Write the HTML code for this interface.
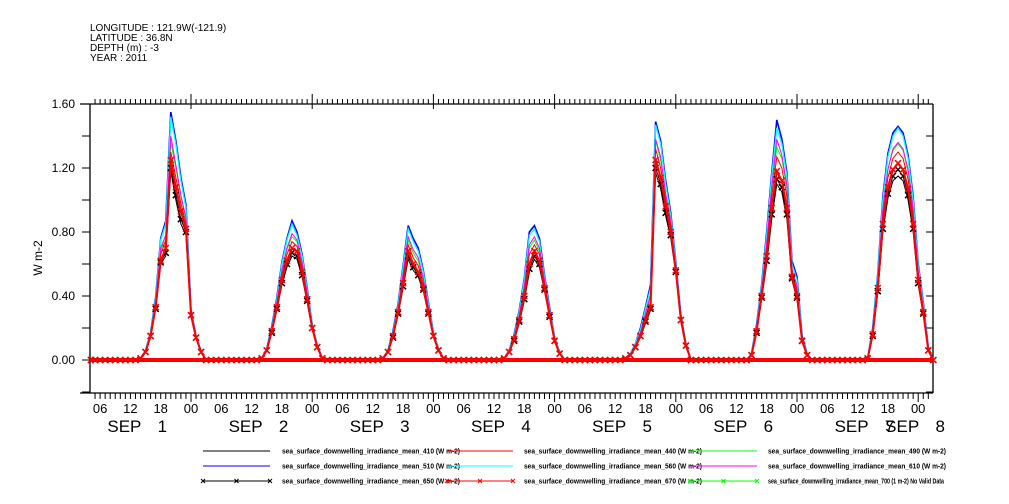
<!DOCTYPE html>
<html><head><meta charset="utf-8"><style>
body{margin:0;background:#fff;}
svg{display:block;font-family:"Liberation Sans",sans-serif;}
</style></head><body>
<svg id="chart" width="1009" height="504" viewBox="0 0 1009 504">
<g font-size="10" fill="#000">
<text x="90" y="31">LONGITUDE : 121.9W(-121.9)</text>
<text x="90" y="41">LATITUDE : 36.8N</text>
<text x="90" y="51">DEPTH (m) : -3</text>
<text x="90" y="61">YEAR : 2011</text>
</g>
<g id="axes"></g>
<g id="series"></g>
<text x="0" y="0" font-size="12" text-anchor="middle" transform="translate(42,258) rotate(-90)">W m-2</text>
<g id="legend"></g>
</svg>
<script>
// y tick values
const yTicks = [0, 0.4, 0.8, 1.2, 1.6];
const yTickLabels = ["0.00", "0.40", "0.80", "1.20", "1.60"];
const dayLabels = ["1","2","3","4","5","6","7","8"];
const hourLabels = ["00","06","12","18"];
// daylight hours 14..27 for each day (Sep 1..7)
const dayHours = [14,15,16,17,18,19,20,21,22,23,24,25,26,27];
const s670 = [
 [0.01,0.05,0.15,0.33,0.62,0.70,1.25,1.08,0.93,0.82,0.28,0.14,0.05,0],
 [0.01,0.06,0.18,0.33,0.50,0.62,0.70,0.68,0.55,0.38,0.20,0.08,0.01,0],
 [0.01,0.05,0.15,0.30,0.48,0.68,0.60,0.55,0.45,0.30,0.15,0.06,0.01,0],
 [0.01,0.05,0.13,0.25,0.40,0.60,0.68,0.62,0.45,0.28,0.12,0.04,0,0],
 [0.01,0.03,0.08,0.15,0.25,0.33,1.25,1.14,0.96,0.80,0.56,0.25,0.09,0],
 [0,0.03,0.18,0.40,0.65,0.95,1.18,1.12,0.95,0.52,0.40,0.12,0.03,0],
 [0.01,0.16,0.45,0.85,1.08,1.19,1.23,1.19,1.07,0.85,0.50,0.30,0.06,0.0]];
const s440 = [
 [0.01,0.05,0.16,0.35,0.66,0.75,1.30,1.14,0.98,0.85,0.29,0.14,0.05,0],
 [0.01,0.06,0.19,0.35,0.53,0.66,0.74,0.71,0.58,0.40,0.21,0.08,0.01,0],
 [0.01,0.05,0.16,0.31,0.51,0.72,0.64,0.59,0.48,0.32,0.16,0.06,0.01,0],
 [0.01,0.05,0.14,0.27,0.43,0.66,0.72,0.66,0.47,0.29,0.13,0.04,0,0],
 [0.01,0.03,0.09,0.16,0.27,0.36,1.32,1.20,1.00,0.84,0.57,0.26,0.09,0],
 [0,0.03,0.19,0.42,0.69,1.02,1.27,1.20,1.02,0.55,0.43,0.13,0.03,0],
 [0.01,0.17,0.48,0.90,1.14,1.26,1.30,1.26,1.13,0.90,0.53,0.32,0.07,0.0]];
const s490 = [
 [0.01,0.05,0.16,0.36,0.68,0.78,1.36,1.20,1.02,0.88,0.29,0.15,0.05,0],
 [0.01,0.06,0.19,0.36,0.55,0.69,0.77,0.74,0.60,0.41,0.21,0.08,0.01,0],
 [0.01,0.05,0.16,0.32,0.53,0.75,0.67,0.62,0.50,0.33,0.16,0.06,0.01,0],
 [0.01,0.05,0.14,0.28,0.45,0.70,0.75,0.68,0.49,0.30,0.13,0.04,0,0],
 [0.01,0.03,0.09,0.17,0.28,0.40,1.37,1.25,1.03,0.86,0.58,0.26,0.09,0],
 [0,0.03,0.20,0.44,0.72,1.07,1.33,1.26,1.07,0.57,0.45,0.13,0.03,0],
 [0.01,0.18,0.50,0.94,1.19,1.31,1.35,1.31,1.18,0.94,0.55,0.33,0.07,0.0]];
const s510 = [
 [0.01,0.06,0.17,0.39,0.76,0.87,1.55,1.37,1.14,0.97,0.31,0.15,0.05,0],
 [0.01,0.07,0.21,0.39,0.61,0.76,0.87,0.80,0.66,0.45,0.22,0.09,0.01,0],
 [0.01,0.06,0.18,0.35,0.59,0.84,0.76,0.70,0.56,0.36,0.17,0.07,0.01,0],
 [0.01,0.06,0.16,0.31,0.51,0.80,0.84,0.76,0.53,0.33,0.14,0.05,0,0],
 [0.01,0.04,0.10,0.20,0.33,0.47,1.49,1.37,1.12,0.92,0.61,0.28,0.10,0],
 [0,0.04,0.22,0.47,0.80,1.17,1.50,1.38,1.17,0.62,0.52,0.15,0.04,0],
 [0.01,0.20,0.54,1.02,1.29,1.42,1.46,1.42,1.28,1.02,0.60,0.36,0.08,0.0]];
const s560 = [
 [0.01,0.06,0.17,0.38,0.75,0.85,1.52,1.35,1.12,0.95,0.30,0.15,0.05,0],
 [0.01,0.07,0.20,0.38,0.60,0.75,0.85,0.78,0.65,0.44,0.22,0.09,0.01,0],
 [0.01,0.06,0.17,0.34,0.58,0.82,0.74,0.68,0.55,0.35,0.17,0.07,0.01,0],
 [0.01,0.06,0.15,0.30,0.50,0.78,0.82,0.74,0.52,0.32,0.14,0.05,0,0],
 [0.01,0.04,0.10,0.19,0.32,0.45,1.47,1.35,1.10,0.90,0.60,0.27,0.10,0],
 [0,0.04,0.21,0.46,0.78,1.15,1.45,1.35,1.15,0.60,0.50,0.14,0.04,0],
 [0.01,0.19,0.53,1.00,1.27,1.40,1.45,1.40,1.26,1.00,0.59,0.35,0.08,0.0]];
const s610 = [
 [0.01,0.05,0.16,0.36,0.70,0.78,1.40,1.22,1.03,0.89,0.29,0.15,0.05,0],
 [0.01,0.06,0.19,0.36,0.56,0.70,0.79,0.75,0.61,0.42,0.21,0.08,0.01,0],
 [0.01,0.05,0.16,0.32,0.54,0.77,0.69,0.64,0.51,0.33,0.16,0.06,0.01,0],
 [0.01,0.05,0.14,0.28,0.46,0.72,0.77,0.70,0.50,0.31,0.13,0.04,0,0],
 [0.01,0.03,0.09,0.17,0.29,0.41,1.38,1.27,1.04,0.87,0.58,0.26,0.09,0],
 [0,0.03,0.20,0.44,0.73,1.08,1.38,1.28,1.09,0.57,0.46,0.13,0.03,0],
 [0.01,0.18,0.50,0.94,1.19,1.32,1.36,1.32,1.19,0.94,0.56,0.33,0.07,0.0]];
const s650 = [
 [0.01,0.05,0.15,0.32,0.61,0.67,1.20,1.03,0.88,0.80,0.28,0.14,0.05,0],
 [0.01,0.06,0.17,0.32,0.48,0.60,0.67,0.65,0.53,0.37,0.20,0.08,0.01,0],
 [0.01,0.05,0.14,0.29,0.46,0.65,0.58,0.53,0.44,0.29,0.15,0.06,0.01,0],
 [0.01,0.05,0.12,0.24,0.38,0.57,0.65,0.60,0.44,0.27,0.12,0.04,0,0],
 [0.01,0.03,0.08,0.15,0.24,0.32,1.20,1.10,0.92,0.78,0.55,0.25,0.09,0],
 [0,0.03,0.17,0.39,0.62,0.91,1.13,1.08,0.91,0.51,0.39,0.12,0.03,0],
 [0.01,0.15,0.43,0.82,1.04,1.15,1.19,1.15,1.03,0.82,0.48,0.29,0.06,0.0]];
const s410 = [
 [0.01,0.05,0.15,0.32,0.60,0.65,1.18,1.00,0.85,0.78,0.28,0.14,0.05,0],
 [0.01,0.06,0.17,0.31,0.47,0.58,0.65,0.63,0.52,0.36,0.19,0.08,0.01,0],
 [0.01,0.05,0.14,0.28,0.45,0.63,0.56,0.52,0.43,0.29,0.15,0.06,0.01,0],
 [0.01,0.05,0.12,0.23,0.37,0.55,0.63,0.58,0.43,0.27,0.12,0.04,0,0],
 [0.01,0.03,0.08,0.14,0.23,0.31,1.17,1.07,0.90,0.76,0.54,0.25,0.09,0],
 [0,0.03,0.17,0.38,0.60,0.88,1.10,1.05,0.88,0.50,0.38,0.12,0.03,0],
 [0.01,0.15,0.42,0.80,1.01,1.12,1.15,1.12,1.00,0.80,0.47,0.28,0.06,0.0]];
const legendNames = ["sea_surface_downwelling_irradiance_mean_410 (W m-2)","sea_surface_downwelling_irradiance_mean_440 (W m-2)","sea_surface_downwelling_irradiance_mean_490 (W m-2)","sea_surface_downwelling_irradiance_mean_510 (W m-2)","sea_surface_downwelling_irradiance_mean_560 (W m-2)","sea_surface_downwelling_irradiance_mean_610 (W m-2)","sea_surface_downwelling_irradiance_mean_650 (W m-2)","sea_surface_downwelling_irradiance_mean_670 (W m-2)","sea_surface_downwelling_irradiance_mean_700 (1 m-2) No Valid Data"];

const NS="http://www.w3.org/2000/svg";
const L=90,R=933,T=104,B=393;
const tMin=4.2, tMax=171.0;
const x0=69.8, pxH=121.2/24;
function xs(h){return x0+h*pxH;}
function ys(v){return 360-v*160;}
function mk(tag,attrs,parent){const e=document.createElementNS(NS,tag);for(const k in attrs)e.setAttribute(k,attrs[k]);parent.appendChild(e);return e;}
const axes=document.getElementById('axes');
let ln=mk('line',{x1:80,y1:T,x2:R,y2:T,stroke:'#000','stroke-width':1.3},axes);


ln=mk('line',{x1:80,y1:B,x2:R,y2:B,stroke:'#000','stroke-width':1.3},axes);


ln=mk('line',{x1:L,y1:T,x2:L,y2:B,stroke:'#000','stroke-width':1.3},axes);


ln=mk('line',{x1:R,y1:T,x2:R,y2:B,stroke:'#000','stroke-width':1.3},axes);


for(let v=-0.2;v<=1.61;v+=0.2){
  const y=ys(v);
  if(y<T-1||y>B)continue;
  mk('line',{x1:L-8,y1:y,x2:L,y2:y,stroke:'#000'},axes);
  mk('line',{x1:R-7,y1:y,x2:R,y2:y,stroke:'#000'},axes);
}
yTicks.forEach((v,i)=>{
  const t=mk('text',{x:L-15,y:ys(v)+4,'font-size':12,'text-anchor':'end'},axes);
  t.textContent=yTickLabels[i];
  
  
});
for(let h=Math.ceil(tMin);h<=tMax;h++){
  const x=xs(h); if(x>R)break;
  const mid=h%24===0;
  mk('line',{x1:x,y1:B,x2:x,y2:B+(mid?9:6),stroke:'#000'},axes);
  mk('line',{x1:x,y1:T,x2:x,y2:T+(mid?-10:-5),stroke:'#000'},axes);
  if(mid){mk('line',{x1:x,y1:T,x2:x,y2:T+5,stroke:'#000'},axes);}
  if(h%6===0){
    const t=mk('text',{x:x,y:413,'font-size':13,'text-anchor':'middle'},axes);
    t.textContent=hourLabels[(h%24)/6];
    
    
  }
}
dayLabels.forEach((d,i)=>{
  let cx=xs(i*24+12);
  if(i===7)cx=xs(i*24)-10;
  const g=mk('g',{},axes);
  
  
  const t1=mk('text',{x:cx-6,y:432,'font-size':17,'text-anchor':'middle'},g);
  t1.textContent='SEP';
  const t2=mk('text',{x:cx+32,y:432,'font-size':17,'text-anchor':'middle'},g);
  t2.textContent=d;
});
const sg=document.getElementById('series');
function valueAt(arr,h){
  const d=Math.floor((h-14)/24);
  if(d<0||d>=arr.length)return 0;
  const idx=h-14-24*d;
  return idx<dayHours.length?arr[d][idx]:0;
}
function drawSeries(arr,color,name,marker,width){
  const pts=[];
  pts.push([xs(tMin),ys(0)]);
  for(let h=5;h<=171;h++){const x=xs(h);if(x>R+0.5)break;pts.push([x,ys(valueAt(arr,h))]);}
  const g=mk('g',{},sg);
  
  
  const p=mk('polyline',{points:pts.map(p=>p.join(',')).join(' '),fill:'none',stroke:color,'stroke-width':width||1},g);
  
  
  if(marker){
    let d='';
    pts.forEach(([x,y])=>{d+=`M${x-3},${y-3}L${x+3},${y+3}M${x-3},${y+3}L${x+3},${y-3}`;});
    const m=mk('path',{d:d,stroke:color,'stroke-width':1.5,fill:'none'},g);
    
    
  }
}
drawSeries(s490,'#00ff00','series-490');
drawSeries(s510,'#0000ff','series-510',false,1.6);
drawSeries(s560,'#00ffff','series-560',false,1.3);
drawSeries(s610,'#ff00ff','series-610');
drawSeries(s410,'#000000','series-410');
drawSeries(s440,'#ff0000','series-440');
drawSeries(s650,'#000000','series-650',true);
drawSeries(s670,'#ff0000','series-670',true,2);
// thick zero band formed by dense markers in the original
const zb=mk('line',{x1:L,y1:ys(0),x2:R,y2:ys(0),stroke:'#ff0000','stroke-width':4},sg);


sg.insertBefore(zb,sg.firstChild);
const lg=document.getElementById('legend');
const legColors=['#000','#ff0000','#00ff00','#0000ff','#00ffff','#ff00ff','#000','#ff0000','#00ff00'];
const legMark=[0,0,0,0,0,0,1,1,1];
const cols=[[203,270,282],[447,513,524],[690,757,768]];
for(let i=0;i<9;i++){
  const c=cols[i%3], y=451+Math.floor(i/3)*15;
  const g=mk('g',{},lg);
  
  
  mk('line',{x1:c[0],y1:y,x2:c[1],y2:y,stroke:legColors[i]},g);
  if(legMark[i]){
    [c[0],(c[0]+c[1])/2,c[1]].forEach(x=>mk('path',{d:`M${x-2},${y-2}L${x+2},${y+2}M${x-2},${y+2}L${x+2},${y-2}`,stroke:legColors[i]},g));
  }
  const t=mk('text',{x:c[2],y:y+2.5,'font-size':7,'font-weight':'bold',textLength:i===8?176:178,lengthAdjust:'spacingAndGlyphs'},g);
  t.textContent=legendNames[i];
}
</script>
</body></html>
